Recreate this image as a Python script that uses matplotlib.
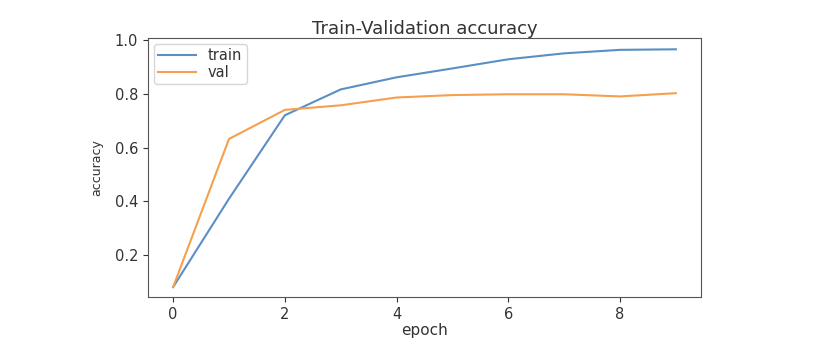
import numpy as np
import matplotlib
matplotlib.use("Agg")
import matplotlib.pyplot as plt

# accuracy per epoch
epochs = [0, 1, 2, 3, 4, 5, 6, 7, 8, 9]
train_acc = [0.082, 0.41, 0.72, 0.816, 0.861, 0.894, 0.928, 0.950, 0.963, 0.965]
val_acc = [0.082, 0.632, 0.740, 0.757, 0.786, 0.795, 0.798, 0.798, 0.790, 0.802]

plt.rcParams['text.color'] = '#333333'
plt.rcParams['axes.labelcolor'] = '#333333'
plt.rcParams['xtick.color'] = '#333333'
plt.rcParams['ytick.color'] = '#333333'

fig = plt.figure(figsize=(8.37, 3.54), dpi=100)
ax = fig.add_axes([148 / 837, 1 - 297 / 354, 553 / 837, 259 / 354])

ax.plot(epochs, train_acc, color='#5b8fc4', label='train', lw=1.5)
ax.plot(epochs, val_acc, color='#f5a04f', label='val', lw=1.5)

ax.set_xlim(-0.45, 9.45)
ax.set_ylim(0.045, 1.007)
ax.set_xticks([0, 2, 4, 6, 8])
ax.set_yticks([0.2, 0.4, 0.6, 0.8, 1.0])
ax.tick_params(labelsize=10.5)
for s in ax.spines.values():
    s.set_color('#555555')

ax.set_title('Train-Validation accuracy', fontsize=13, pad=3)
ax.set_xlabel('epoch', fontsize=11, labelpad=1)
ax.set_ylabel('accuracy', fontsize=9, labelpad=8)
ax.legend(loc='upper left', fontsize=10.5, handlelength=2.6,
          labelspacing=0.1, borderaxespad=0.4, borderpad=0.3)

fig.savefig('out.png', dpi=100)
